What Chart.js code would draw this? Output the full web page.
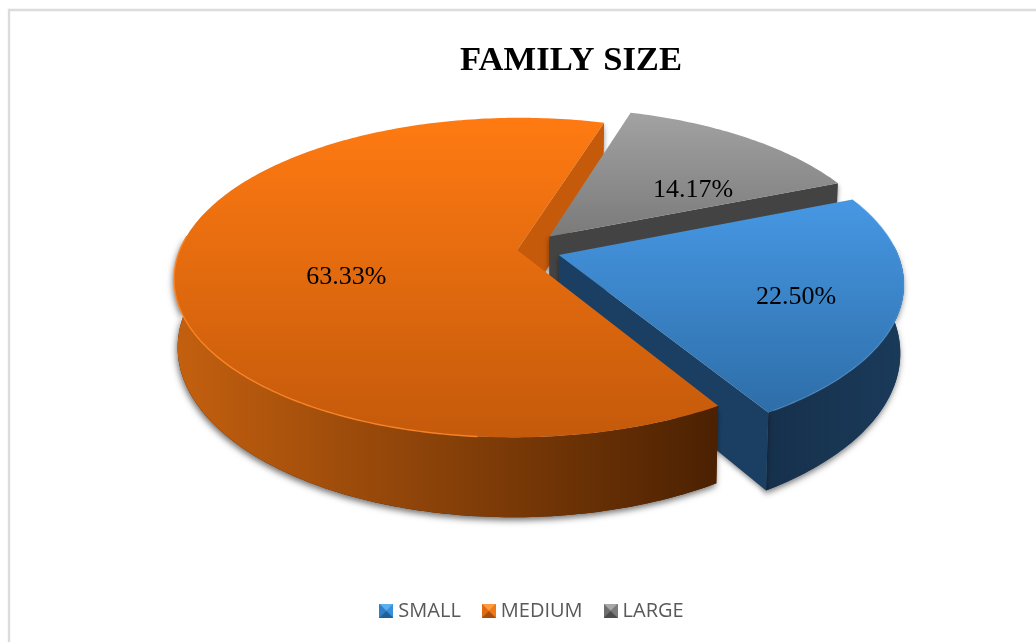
<!DOCTYPE html>
<html><head><meta charset="utf-8">
<style>html,body{margin:0;padding:0;background:#fff;overflow:hidden}canvas{display:block}</style>
<script src="https://cdn.jsdelivr.net/npm/chart.js@4/dist/chart.umd.min.js"></script>
</head><body><canvas id="c" width="1036" height="642"></canvas>
<script>
const categories = ['SMALL', 'MEDIUM', 'LARGE'];
const values = [22.50, 63.33, 14.17];
const firstSliceAngle = 67.9;
const explodeOffset = 14;
const labelRadius = [0.73, 0.52, 0.59];
const labelAngleShift = [3.5, -11.5, 8.5];

const view = {cx: 537, cy: 249, R: 337, S: 154.7, H: 66, t: 0.172, k: 0.99};
const skins = [
  {topA:'#4697e3', topB:'#2e6ea9', y0:200, y1:411, side:'#1b3f63', wallA:'#16304b', wallB:'#1a3a5a', x0:760, x1:905, rim:'rgba(120,180,240,.3)', rimFrom:-20, rimTo:58, nudgeU:0.011, nudgeV:0.02, mk:['#5cb0f0','#2f7fc4','#3a8fd8','#1f5f99']},
  {topA:'#ff7a12', topB:'#c45a0b', y0:118, y1:437, side:'#c55a0a', wallA:'#c4600f', wallB:'#4b2102', x0:175, x1:717, rim:'rgba(255,135,40,.9)', rimFrom:95, rimTo:185, nudgeU:-0.003, nudgeV:0, mk:['#ff9a40','#e06a10','#f07a18','#a84e08']},
  {topA:'#a2a2a2', topB:'#7a7a7a', y0:113, y1:237, side:'#434343', wallA:'#434343', wallB:'#3a3a3a', x0:550, x1:840, rim:'rgba(190,190,190,0)', rimFrom:0, rimTo:0, nudgeU:-0.001, nudgeV:-0.04, mk:['#a8a8a8','#6e6e6e','#7c7c7c','#4c4c4c']}
];
const rad = d => d * Math.PI / 180;

function project(u, v, low) {
  const p = 1 / (1 - view.t * v);
  return {
    x: view.cx + view.R * u * p * (low ? view.k : 1),
    y: view.cy + (view.S * v + (low ? view.H : 0)) * p
  };
}
function sliceGeom(arc, i) {
  const s = arc.getProps(['startAngle', 'endAngle', 'outerRadius']);
  const e = arc.options.offset / (s.outerRadius + arc.options.offset);
  const mid = (s.startAngle + s.endAngle) / 2;
  const bu = Math.cos(mid) * e, bv = Math.sin(mid) * e;
  return {a0: s.startAngle, a1: s.endAngle, mid, bu, bv, ou: bu + skins[i].nudgeU, ov: bv + skins[i].nudgeV};
}
function rimPoint(g, a, low) {
  return project(g.ou + Math.cos(a), g.ov + Math.sin(a), low);
}
function rimPoints(g, a0, a1, low) {
  const n = Math.max(2, Math.ceil(Math.abs(a1 - a0) * 60));
  const out = [];
  for (let i = 0; i <= n; i++) out.push(rimPoint(g, a0 + (a1 - a0) * i / n, low));
  return out;
}
function tracePts(ctx, pts, move) {
  pts.forEach((q, i) => (i === 0 && move) ? ctx.moveTo(q.x, q.y) : ctx.lineTo(q.x, q.y));
}
function drawQuad(ctx, a, b, c, d, fill) {
  ctx.fillStyle = fill; ctx.beginPath();
  ctx.moveTo(a.x, a.y); ctx.lineTo(b.x, b.y); ctx.lineTo(c.x, c.y); ctx.lineTo(d.x, d.y);
  ctx.closePath(); ctx.fill();
}
function drawTop(ctx, g, skin) {
  const grad = ctx.createLinearGradient(0, skin.y0, 0, skin.y1);
  grad.addColorStop(0, skin.topA); grad.addColorStop(1, skin.topB);
  const apex = project(g.ou, g.ov, false);
  ctx.fillStyle = grad; ctx.beginPath(); ctx.moveTo(apex.x, apex.y);
  tracePts(ctx, rimPoints(g, g.a0, g.a1, false), false);
  ctx.closePath(); ctx.fill();
  if (skin.rimTo > skin.rimFrom) {
    ctx.strokeStyle = skin.rim; ctx.lineWidth = 1.4; ctx.beginPath();
    tracePts(ctx, rimPoints(g, rad(skin.rimFrom), rad(skin.rimTo), false), true); ctx.stroke();
  }
}
function drawOuterWall(ctx, g, skin) {
  const lo = Math.max(g.a0, -Math.PI * 0.02), hi = Math.min(g.a1, Math.PI * 1.03);
  if (hi <= lo) return;
  const top = rimPoints(g, lo, hi, false), bot = rimPoints(g, lo, hi, true);
  ctx.save();
  ctx.shadowColor = 'rgba(0,0,0,.55)'; ctx.shadowBlur = 6; ctx.shadowOffsetY = 3; ctx.shadowOffsetX = -1;
  ctx.fillStyle = skin.wallB; ctx.beginPath();
  tracePts(ctx, top, true); tracePts(ctx, bot.slice().reverse(), false); ctx.closePath(); ctx.fill();
  ctx.restore();
  const grad = ctx.createLinearGradient(skin.x0, 0, skin.x1, 0);
  grad.addColorStop(0, skin.wallA); grad.addColorStop(1, skin.wallB);
  ctx.fillStyle = grad; ctx.beginPath();
  tracePts(ctx, top, true); tracePts(ctx, bot.slice().reverse(), false); ctx.closePath(); ctx.fill();
}
function drawCut(ctx, g, a, skin) {
  const o0 = project(g.ou, g.ov, false), o1 = project(g.ou, g.ov, true);
  const r0 = rimPoint(g, a, false), r1 = rimPoint(g, a, true);
  ctx.save();
  ctx.shadowColor = 'rgba(0,0,0,.45)'; ctx.shadowBlur = 5; ctx.shadowOffsetY = 2;
  drawQuad(ctx, o0, r0, r1, o1, skin.side);
  ctx.restore();
}

const pie3d = {
  id: 'pie3d',
  afterLayout(chart) {
    chart.titleBlock.left += 53; chart.titleBlock.right += 53;
    chart.legend.left += 16; chart.legend.right += 16;
  },
  beforeDraw(chart) {
    const ctx = chart.ctx;
    ctx.save(); ctx.strokeStyle = '#dcdcdc'; ctx.lineWidth = 2.4; ctx.beginPath();
    ctx.moveTo(9, 642); ctx.lineTo(9, 10); ctx.lineTo(1036, 10); ctx.stroke(); ctx.restore();
  },
  beforeDatasetsDraw(chart) {
    const ctx = chart.ctx, arcs = chart.getDatasetMeta(0).data;
    const G = arcs.map(sliceGeom);
    ctx.save();
    drawCut(ctx, G[1], G[1].a1, skins[1]);
    drawCut(ctx, G[2], G[2].a1, skins[2]);
    drawTop(ctx, G[2], skins[2]);
    drawOuterWall(ctx, G[0], skins[0]);
    drawCut(ctx, G[0], G[0].a1, skins[0]);
    drawTop(ctx, G[0], skins[0]);
    drawOuterWall(ctx, G[1], skins[1]);
    drawTop(ctx, G[1], skins[1]);
    ctx.fillStyle = '#000'; ctx.font = '26px "Liberation Serif"';
    ctx.textAlign = 'center'; ctx.textBaseline = 'middle';
    values.forEach((val, i) => {
      const a = G[i].mid + rad(labelAngleShift[i]);
      const q = project(G[i].bu + Math.cos(a) * labelRadius[i], G[i].bv + Math.sin(a) * labelRadius[i], false);
      ctx.fillText(val.toFixed(2) + '%', q.x, q.y + 1);
    });
    ctx.restore();
    return false;
  }
};

function marker(c) {
  const s = 14, m = document.createElement('canvas'); m.width = m.height = s;
  const x = m.getContext('2d');
  const tri = (pts, col) => { x.fillStyle = col; x.beginPath(); pts.forEach((p, i) => i ? x.lineTo(p[0], p[1]) : x.moveTo(p[0], p[1])); x.closePath(); x.fill(); };
  x.fillStyle = c[1]; x.fillRect(0, 0, s, s);
  tri([[0,0],[s,0],[s/2,s/2]], c[0]);
  tri([[0,0],[0,s],[s/2,s/2]], c[1]);
  tri([[s,0],[s,s],[s/2,s/2]], c[2]);
  tri([[0,s],[s,s],[s/2,s/2]], c[3]);
  return m;
}
const markers = skins.map(s => marker(s.mk));

new Chart(document.getElementById('c'), {
  type: 'pie',
  data: {labels: categories, datasets: [{data: values, offset: explodeOffset, borderWidth: 0,
    backgroundColor: skins.map(s => s.topA)}]},
  options: {
    responsive: false, animation: false, rotation: firstSliceAngle,
    layout: {padding: {top: 40, bottom: 11}},
    plugins: {
      tooltip: {enabled: false},
      title: {display: true, text: 'FAMILY SIZE', color: '#000',
        font: {family: '"Liberation Serif"', size: 34.6, weight: 'bold'}, padding: {top: 0, bottom: 10}},
      legend: {position: 'bottom', labels: {
        color: '#595959', font: {family: '"Open Sans"', size: 20}, usePointStyle: true, boxWidth: 4, boxHeight: 14, padding: 26,
        generateLabels(chart) {
          return Chart.overrides.pie.plugins.legend.labels.generateLabels(chart)
            .map((it, i) => Object.assign(it, {pointStyle: markers[i], fillStyle: skins[i].topA, strokeStyle: skins[i].topA, lineWidth: 0}));
        }
      }}
    }
  },
  plugins: [pie3d]
});
</script></body></html>
